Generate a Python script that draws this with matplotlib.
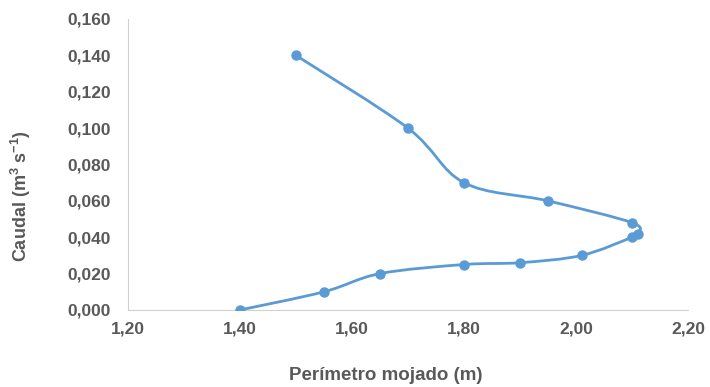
import matplotlib
matplotlib.use("Agg")
from matplotlib import pyplot as plt
from matplotlib.path import Path
from matplotlib import patches
from matplotlib.ticker import FuncFormatter
import numpy as np

# Perimetro mojado (m) vs Caudal (m3/s), in measurement order
perimetro = [1.40, 1.55, 1.65, 1.80, 1.90, 2.01, 2.10, 2.11, 2.10, 1.95, 1.80, 1.70, 1.50]
caudal = [0.000, 0.010, 0.020, 0.025, 0.026, 0.030, 0.040, 0.042, 0.048, 0.060, 0.070, 0.100, 0.140]

BLUE = '#5B9BD5'
GRAY = '#595959'

plt.rcParams['font.family'] = ['Liberation Sans', 'DejaVu Sans']
plt.rcParams['mathtext.fontset'] = 'custom'
plt.rcParams['mathtext.rm'] = 'Liberation Sans'
plt.rcParams['mathtext.bf'] = 'Liberation Sans:bold'


def smooth_path(xs, ys):
    # Catmull-Rom style bezier through the points, like Excel's smoothed line
    pts = np.column_stack([xs, ys])
    verts = [pts[0]]
    codes = [Path.MOVETO]
    n = len(pts)
    for i in range(n - 1):
        p0 = pts[i - 1] if i > 0 else pts[i]
        p1 = pts[i]
        p2 = pts[i + 1]
        p3 = pts[i + 2] if i + 2 < n else pts[i + 1]
        c1 = p1 + (p2 - p0) / 6.0
        c2 = p2 - (p3 - p1) / 6.0
        verts += [c1, c2, p2]
        codes += [Path.CURVE4] * 3
    return Path(verts, codes)


fig = plt.figure(figsize=(7.10, 3.87), dpi=100)
ax = fig.add_axes([0.180, 0.199, 0.789, 0.752])

ax.set_xlim(1.20, 2.20)
ax.set_ylim(0, 0.160)

# smoothed line drawn in screen space so it looks right with unequal scales
disp = ax.transData.transform(np.column_stack([perimetro, caudal]))
path = smooth_path(disp[:, 0], disp[:, 1])
ax.add_patch(patches.PathPatch(path, facecolor='none', edgecolor=BLUE, lw=2,
                               transform=None, zorder=2))
ax.plot(perimetro, caudal, 'o', color=BLUE, ms=6.5, zorder=3)

ax.set_xticks(np.arange(1.20, 2.21, 0.20))
ax.set_yticks(np.arange(0, 0.161, 0.020))
ax.xaxis.set_major_formatter(FuncFormatter(lambda v, p: f'{v:.2f}'.replace('.', ',')))
ax.yaxis.set_major_formatter(FuncFormatter(lambda v, p: f'{v:.3f}'.replace('.', ',')))
ax.tick_params(length=0, labelsize=12.5, labelcolor=GRAY)
ax.tick_params(axis='x', pad=8)
ax.tick_params(axis='y', pad=12)
for lab in ax.get_xticklabels() + ax.get_yticklabels():
    lab.set_fontweight('bold')

for s in ['top', 'right']:
    ax.spines[s].set_visible(False)
for s in ['left', 'bottom']:
    ax.spines[s].set_color('#D0D0D0')

ax.set_xlabel('Perímetro mojado (m)', fontsize=13.5, color=GRAY, fontweight='bold')
ax.set_ylabel('Caudal (m$^{\\mathbf{3}}$ s$^{\\mathbf{-1}}$)', fontsize=13, color=GRAY,
              fontweight='bold')
ax.xaxis.set_label_coords(0.46, -0.195)
ax.yaxis.set_label_coords(-0.17, 0.39)

fig.savefig('out.png', dpi=100)
